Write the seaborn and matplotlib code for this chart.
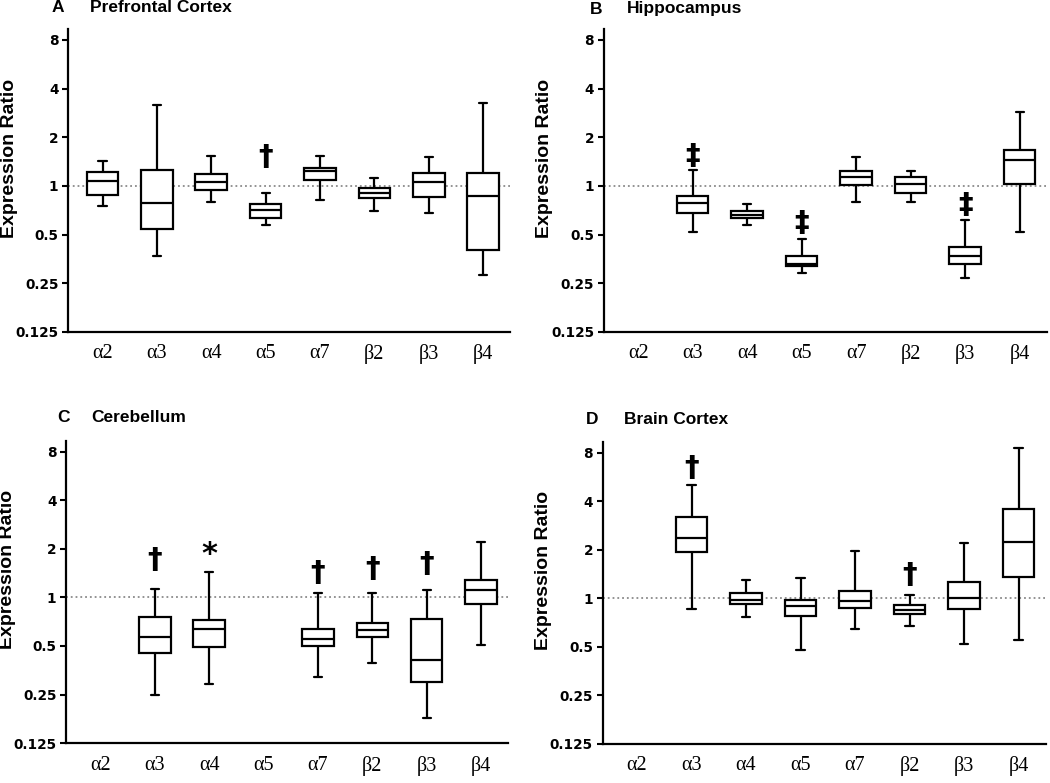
import numpy as np
import pandas as pd
import matplotlib
matplotlib.use('Agg')
import matplotlib.pyplot as plt
from matplotlib.ticker import NullLocator
import seaborn as sns

# nAChR subunits on the x axis
subunits = ['α2', 'α3', 'α4', 'α5', 'α7', 'β2', 'β3', 'β4']

# five-number summaries: [min, Q1, median, Q3, max]
pfc_box = [[0.75, 0.88, 1.07, 1.22, 1.43],
           [0.37, 0.54, 0.79, 1.26, 3.15],
           [0.80, 0.94, 1.06, 1.19, 1.53],
           [0.57, 0.63, 0.71, 0.77, 0.90],
           [0.82, 1.09, 1.23, 1.30, 1.53],
           [0.70, 0.84, 0.90, 0.97, 1.12],
           [0.68, 0.86, 1.06, 1.21, 1.50],
           [0.28, 0.40, 0.87, 1.21, 3.25]]
hippo_box = [None,
             [0.52, 0.68, 0.78, 0.87, 1.25],
             [0.57, 0.63, 0.66, 0.70, 0.77],
             [0.29, 0.32, 0.33, 0.37, 0.47],
             [0.80, 1.01, 1.13, 1.24, 1.50],
             [0.80, 0.91, 1.03, 1.13, 1.23],
             [0.27, 0.33, 0.37, 0.42, 0.62],
             [0.52, 1.03, 1.44, 1.67, 2.88]]
cereb_box = [None,
             [0.25, 0.45, 0.57, 0.76, 1.12],
             [0.29, 0.49, 0.64, 0.72, 1.44],
             None,
             [0.32, 0.50, 0.55, 0.64, 1.07],
             [0.39, 0.57, 0.63, 0.69, 1.06],
             [0.18, 0.30, 0.41, 0.73, 1.11],
             [0.51, 0.91, 1.11, 1.29, 2.22]]
cortex_box = [None,
              [0.86, 1.92, 2.37, 3.20, 5.00],
              [0.76, 0.92, 0.98, 1.08, 1.29],
              [0.48, 0.78, 0.90, 0.98, 1.33],
              [0.64, 0.87, 0.96, 1.11, 1.96],
              [0.67, 0.80, 0.85, 0.91, 1.05],
              [0.52, 0.86, 1.00, 1.26, 2.21],
              [0.55, 1.36, 2.23, 3.55, 8.50]]

# significance marks: (subunit, symbol, height)
pfc_marks = [('α5', '†', 1.50)]
hippo_marks = [('α3', '‡', 1.53), ('α5', '‡', 0.59), ('β3', '‡', 0.76)]
cereb_marks = [('α3', '†', 1.71), ('α4', '*', 1.84), ('α7', '†', 1.42),
               ('β2', '†', 1.49), ('β3', '†', 1.62)]
cortex_marks = [('α3', '†', 6.45), ('β2', '†', 1.39)]

yticks = [0.125, 0.25, 0.5, 1, 2, 4, 8]
ytick_labels = ['0.125', '0.25', '0.5', '1', '2', '4', '8']

sns.set_style('ticks')
plt.rcParams.update({'text.color': 'black', 'axes.labelcolor': 'black',
                     'xtick.color': 'black', 'ytick.color': 'black',
                     'axes.edgecolor': 'black'})

panels = [
    ('A', 'Prefrontal Cortex', pfc_box, pfc_marks, [0.065, 0.576, 0.421, 0.387]),
    ('B', 'Hippocampus', hippo_box, hippo_marks, [0.575, 0.576, 0.422, 0.387]),
    ('C', 'Cerebellum', cereb_box, cereb_marks, [0.063, 0.051, 0.421, 0.386]),
    ('D', 'Brain Cortex', cortex_box, cortex_marks, [0.574, 0.050, 0.422, 0.386]),
]
title_pos = {'A': (52, 90, 8), 'B': (590, 627, 9), 'C': (57, 91, 418), 'D': (586, 624, 419)}

fig = plt.figure(figsize=(10.5, 7.83), dpi=100)

for letter, name, boxes, marks, rect in panels:
    ax = fig.add_axes(rect)
    rows = []
    for sub, five in zip(subunits, boxes):
        if five is None:
            continue
        for v in five:
            rows.append({'subunit': sub, 'ratio': v})
    df = pd.DataFrame(rows)

    ax.set_yscale('log', base=2)
    sns.boxplot(data=df, x='subunit', y='ratio', order=subunits, whis=np.inf,
                width=0.58, color='white', linecolor='black', linewidth=1.6,
                capwidths=0.15, ax=ax)
    ax.axhline(1, color='#8a8a8a', linestyle=':', linewidth=1.3, zorder=0.5)

    for sub, sym, y in marks:
        ax.text(subunits.index(sub), y, sym, ha='center', va='center',
                fontsize=21 if sym != '*' else 22, fontweight='bold',
                family='DejaVu Sans', color='black')

    ax.set_xlim(-0.63, 7.5)
    ax.set_ylim(0.125, 9.35)
    ax.set_yticks(yticks)
    ax.set_yticklabels(ytick_labels)
    ax.yaxis.set_minor_locator(NullLocator())
    for lab in ax.get_yticklabels():
        lab.set_fontweight('bold')
        lab.set_fontsize(9.8)
    ax.tick_params(axis='y', length=4, width=1.5, pad=3)
    ax.tick_params(axis='x', length=0, pad=9)
    for lab in ax.get_xticklabels():
        lab.set_family('Liberation Serif')
        lab.set_fontsize(14.5)
    ax.set_xlabel('')
    ax.set_ylabel('Expression Ratio', fontsize=14, fontweight='bold',
                  family='Liberation Sans')
    ax.yaxis.set_label_coords(-0.114, 0.574)
    sns.despine(ax=ax)
    for sp in ['left', 'bottom']:
        ax.spines[sp].set_linewidth(1.6)
        ax.spines[sp].set_color('black')

    xl, xt, yt = title_pos[letter]
    fig.text(xl / 1050, 1 - yt / 783, letter, ha='left', va='center',
             fontsize=12.5, fontweight='bold', family='Liberation Sans')
    fig.text(xt / 1050, 1 - yt / 783, name, ha='left', va='center',
             fontsize=12.5, fontweight='bold', family='Liberation Sans')

fig.savefig('out.png', dpi=100)
